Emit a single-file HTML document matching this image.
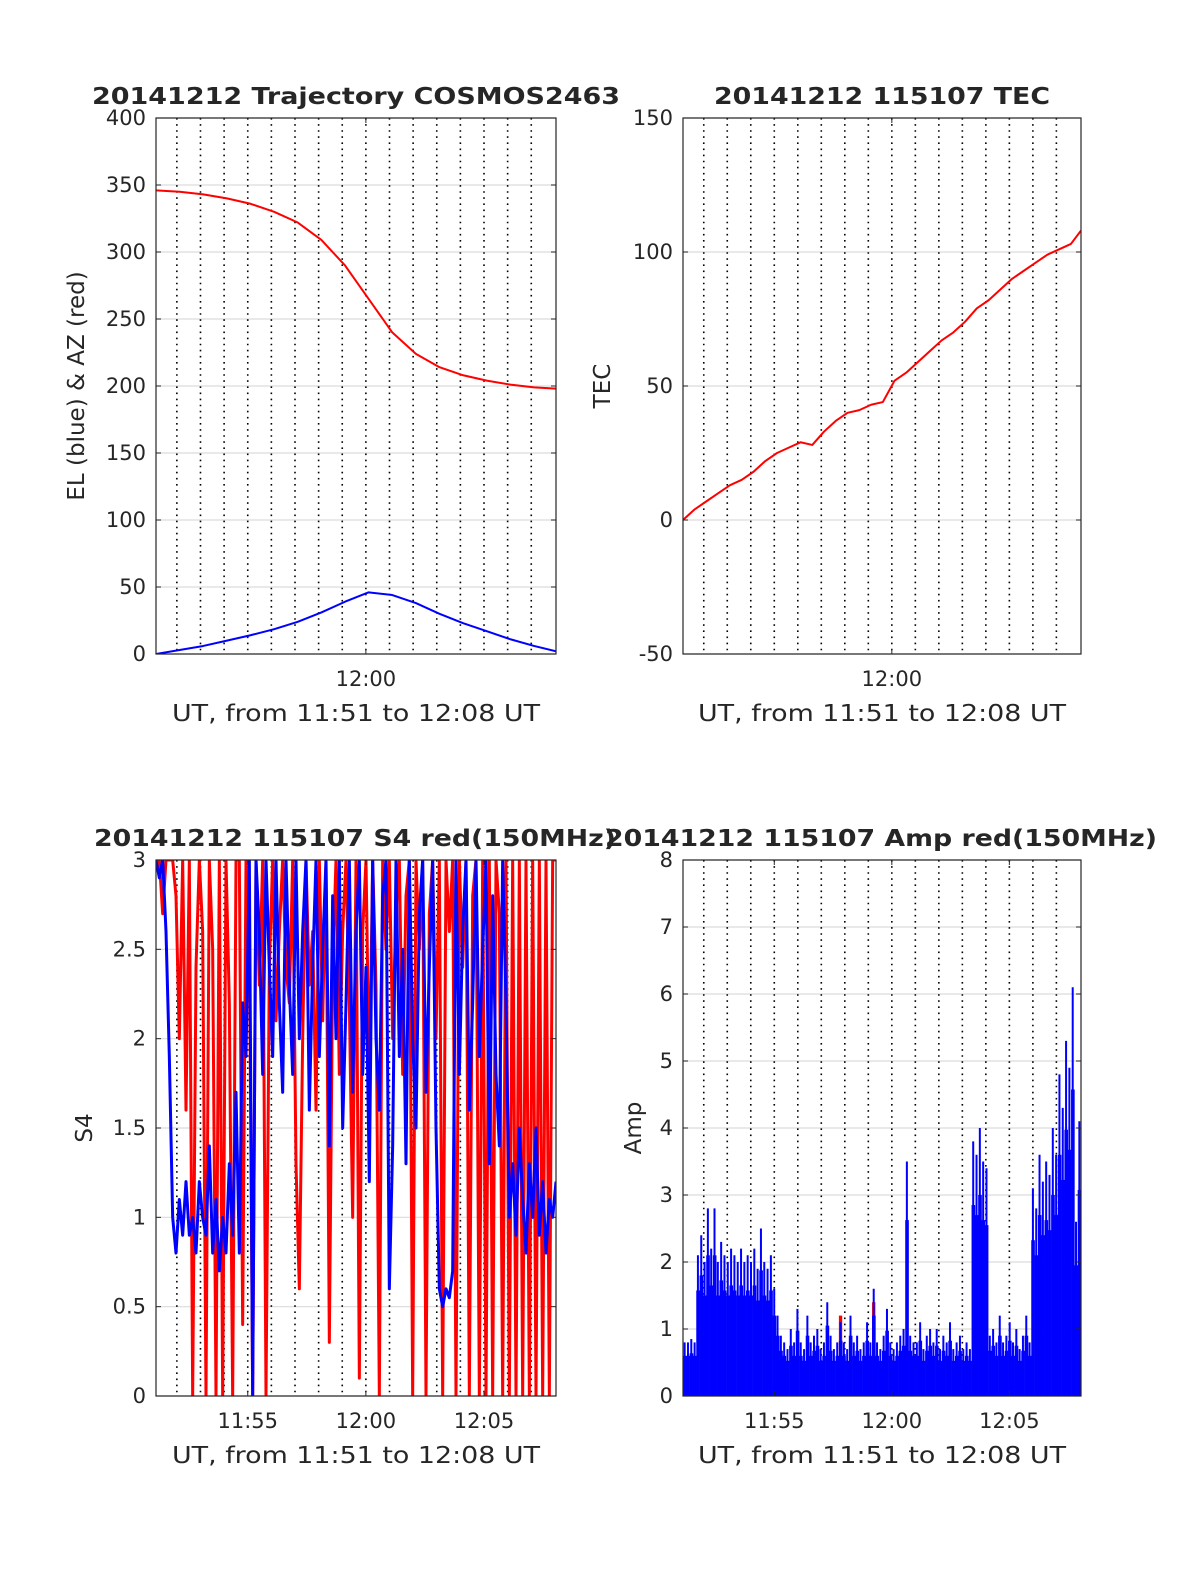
<!DOCTYPE html>
<html><head><meta charset="utf-8"><style>
body{margin:0;background:#fff}
svg text{font-family:"DejaVu Sans","Liberation Sans",sans-serif;fill:#262626}
</style></head><body>
<svg id="fig" width="1200" height="1575" viewBox="0 0 1200 1575" xmlns="http://www.w3.org/2000/svg"></svg>
<script>
// ---- data ----
const azMinutes=[0,1,2,3,4,5,6,7,8,9,10,11,12,13,14,15,16,16.93];
const azValues=[346,345,343,340,336,330,322,309,290,265,240,224,214,208,204,201,199,198];
const elValues=[0,3,6,10,14,18.5,24,31,39,46,44,38,30,23,17,11,6,2];
const tecMinutes=[0,0.5,1,1.5,2,2.5,3,3.5,4,4.5,5,5.5,6,6.5,7,7.5,8,8.5,9,9.5,10,10.5,11,11.5,12,12.5,13,13.5,14,14.5,15,15.5,16,16.5,16.93];
const tecValues=[0,4,7,10,13,15,18,22,25,27,29,28,33,37,40,41,43,44,52,55,59,63,67,70,74,79,82,86,90,93,96,99,101,103,108];
const s4Blue=[3,2.9,3,2.6,1.9,1.0,0.8,1.1,0.9,1.2,0.9,1.0,0.8,1.2,1.0,0.9,1.4,0.8,1.1,0.7,1.0,0.8,1.3,0.9,1.7,0.8,2.2,1.9,3,0,3,2.6,1.8,3,2.4,1.9,3,2.2,1.7,3,2.3,1.8,3,2.0,2.6,3,1.6,2.4,3,1.9,2.5,3,1.4,2.8,2.0,3,1.5,2.2,3,1.7,2.6,3,1.8,2.4,1.2,3,2.0,1.6,2.8,3,0.6,1.4,3,1.9,2.5,1.3,3,2.0,1.5,2.7,3,1.7,2.4,3,1.5,0.6,0.5,0.6,0.55,0.7,3,1.8,2.6,3,1.6,2.2,3,1.9,2.5,3,1.3,2.8,1.8,1.4,3,2.2,1.0,1.3,0.9,1.5,1.1,0.8,1.3,1.0,1.5,0.9,1.2,0.8,1.1,1.0,1.2];
const s4Red=[3,3,2.7,3,3,3,2.8,2.0,3,1.6,3,0,2.4,3,2.6,0,3,2.5,0,3,0,3,2.2,0,3,3,0.4,3,2.6,0,3,2.3,3,0,2.4,3,2.1,2.6,3,2.4,2.2,3,1.3,0.6,2.0,3,2.3,2.6,1.6,3,2.1,3,0.3,2.4,3,1.8,2.6,3,2.2,1.0,3,0.1,2.6,3,1.7,3,2.3,0,3,2.5,3,2.0,2.7,3,1.8,2.8,3,0,3,2.5,3,0,2.7,3,2.0,3,0,3,2.6,3,0,3,2.4,3,0,2.8,3,0,3,0,3,0,3,2.7,0,3,0,3,0,3,0,3,0,3,0,3,0,3,0,3,3];
const ampBlue=[0.8,0.8,0.85,0.8,2.1,2.4,2.0,2.8,2.2,2.8,2.0,2.3,2.1,2.0,2.2,2.1,2.0,2.2,2.0,2.1,2.0,2.2,1.9,2.5,2.0,1.9,2.1,1.6,1.2,0.9,0.8,0.7,1.0,0.8,1.3,0.8,0.7,1.2,0.8,0.9,1.0,0.7,0.8,1.4,0.9,0.7,0.8,1.1,0.8,0.7,1.2,0.8,0.9,0.7,0.8,1.1,0.8,1.6,0.8,0.7,0.9,1.3,0.8,0.7,0.8,0.9,1.0,3.5,0.9,0.8,0.8,1.1,0.7,0.9,1.0,0.8,1.0,0.7,0.9,0.8,1.1,0.7,0.8,0.9,0.7,0.8,0.7,3.8,3.6,4.0,3.5,3.4,0.9,1.0,0.8,1.2,0.8,0.9,1.1,0.8,1.0,0.7,0.9,1.2,0.8,3.1,2.8,3.6,3.2,3.5,3.3,4.0,3.6,4.8,4.3,5.3,4.9,6.1,2.6,4.1];
const ampRed=[0,0,0,0,0,0,0,0,0,0,0,0,0,0,0,0,0,0,0,0,0,0,0,0,0,0,0,0,0,0,0,0,0,0,0,0,0,0,0,0,0,0,0,0,0,0,0,1.2,0,0,0,0,0,0,0,0,0,1.4,0,0];
const ylTicks1=[0,50,100,150,200,250,300,350,400];
const ylTicks2=[-50,0,50,100,150];
const ylTicks3=[0,0.5,1,1.5,2,2.5,3];
const ylTicks4=[0,1,2,3,4,5,6,7,8];

const NS="http://www.w3.org/2000/svg";
const svg=document.getElementById('fig');
function mk(tag,attrs,parent){const e=document.createElementNS(NS,tag);for(const k in attrs)e.setAttribute(k,attrs[k]);(parent||svg).appendChild(e);return e;}
const T0=0,T1=16.93;
function panel(o){
  const g=mk('g',{});
  
  
  const X=t=>o.x+(t-T0)/(T1-T0)*o.w;
  const Y=v=>o.y+o.h-(v-o.ymin)/(o.ymax-o.ymin)*o.h;
  const clipId=o.name+'-clip';
  const cp=mk('clipPath',{id:clipId},g);mk('rect',{x:o.x,y:o.y,width:o.w,height:o.h},cp);
  for(const v of o.yt){const l=mk('line',{x1:o.x,x2:o.x+o.w,y1:Y(v),y2:Y(v),stroke:'#dcdcdc','stroke-width':1.2},g);
    }
  for(let m=1;m<=16;m++){const xx=X(m-0.117);const l=mk('line',{x1:xx,x2:xx,y1:o.y,y2:o.y+o.h,stroke:'#000','stroke-width':1.6,'stroke-dasharray':'1.6 4.5'},g);
    }
  const d=mk('g',{'clip-path':'url(#'+clipId+')'},g);
  o.draw(d,X,Y);
  const fr=mk('rect',{x:o.x,y:o.y,width:o.w,height:o.h,fill:'none',stroke:'#262626','stroke-width':1.2},g);
  
  for(const v of o.yt){
    mk('line',{x1:o.x,x2:o.x+5,y1:Y(v),y2:Y(v),stroke:'#262626'},g);
    mk('line',{x1:o.x+o.w,x2:o.x+o.w-5,y1:Y(v),y2:Y(v),stroke:'#262626'},g);
    const t=mk('text',{x:o.x-10,y:Y(v)+7,'text-anchor':'end','font-size':21},g);t.textContent=v;
    }
  for(const xt of o.xt){const xx=X(xt.m);
    mk('line',{x1:xx,x2:xx,y1:o.y+o.h,y2:o.y+o.h-5,stroke:'#262626'},g);
    mk('line',{x1:xx,x2:xx,y1:o.y,y2:o.y+5,stroke:'#262626'},g);
    const t=mk('text',{x:xx,y:o.y+o.h+32,'text-anchor':'middle','font-size':21},g);t.textContent=xt.l;
    }
  const xl=mk('text',{x:o.x+o.w/2,y:o.y+o.h+67,'text-anchor':'middle','font-size':23,textLength:368,lengthAdjust:'spacingAndGlyphs'},g);xl.textContent='UT, from 11:51 to 12:08 UT';
  
  const yl=mk('text',{x:0,y:0,'text-anchor':'middle','font-size':23,transform:`translate(${o.yLabX},${o.y+o.h/2}) rotate(-90)`},g);yl.textContent=o.ylabel;
  
  const tt=mk('text',{x:o.tcx,y:o.y-14,'text-anchor':'middle','font-size':23,'font-weight':'bold',fill:'#000',textLength:o.tlen,lengthAdjust:'spacingAndGlyphs'},g);tt.textContent=o.title;
  
}
function line(par,X,Y,ts,vs,col,w,name){
  const p=mk('polyline',{points:vs.map((v,i)=>X(ts(i))+','+Y(v)).join(' '),fill:'none',stroke:col,'stroke-width':w,'stroke-linejoin':'round'},par);
  
}
const m12=8.883,m55=3.883,m05=13.883;
panel({name:'trajectory-panel',x:156,y:118,w:400,h:536,ymin:0,ymax:400,yt:ylTicks1,xt:[{m:m12,l:'12:00'}],
  title:'20141212 Trajectory COSMOS2463',tcx:356,tlen:528,ylabel:'EL (blue) & AZ (red)',yLabX:84,
  draw:(d,X,Y)=>{line(d,X,Y,i=>azMinutes[i],azValues,'#f00',2,'az-line');line(d,X,Y,i=>azMinutes[i],elValues,'#00f',2,'el-line');}});
panel({name:'tec-panel',x:683,y:118,w:398,h:536,ymin:-50,ymax:150,yt:ylTicks2,xt:[{m:m12,l:'12:00'}],
  title:'20141212 115107 TEC',tcx:882,tlen:336,ylabel:'TEC',yLabX:610,
  draw:(d,X,Y)=>{line(d,X,Y,i=>tecMinutes[i],tecValues,'#f00',2,'tec-line');}});
panel({name:'s4-panel',x:156,y:860,w:400,h:536,ymin:0,ymax:3,yt:ylTicks3,xt:[{m:m55,l:'11:55'},{m:m12,l:'12:00'},{m:m05,l:'12:05'}],
  title:'20141212 115107 S4 red(150MHz)',tcx:355,tlen:522,ylabel:'S4',yLabX:92,
  draw:(d,X,Y)=>{
    line(d,X,Y,i=>i*T1/(s4Red.length-1),s4Red,'#f00',3,'s4-red-line');
    line(d,X,Y,i=>i*T1/(s4Blue.length-1),s4Blue,'#00f',3,'s4-blue-line');}});
panel({name:'amp-panel',x:683,y:860,w:398,h:536,ymin:0,ymax:8,yt:ylTicks4,xt:[{m:m55,l:'11:55'},{m:m12,l:'12:00'},{m:m05,l:'12:05'}],
  title:'20141212 115107 Amp red(150MHz)',tcx:881,tlen:552,ylabel:'Amp',yLabX:641,
  draw:(d,X,Y)=>{
    const step=T1/ampBlue.length;
    ampRed.forEach((v,i)=>{if(v<=0)return;const r=mk('rect',{x:X(i*step),y:Y(v),width:X(step)-X(0),height:Y(0)-Y(v),fill:'#f00'},d);
      });
    ampBlue.forEach((v,i)=>{const w=X(step)-X(0);
      const r=mk('rect',{x:X(i*step),y:Y(v*0.75),width:w+0.3,height:Y(0)-Y(v*0.75),fill:'#00f'},d);
      
      const s=mk('line',{x1:X(i*step)+w/2,x2:X(i*step)+w/2,y1:Y(0),y2:Y(v),stroke:'#00f','stroke-width':2},d);
      });
  }});
</script>
</body></html>
